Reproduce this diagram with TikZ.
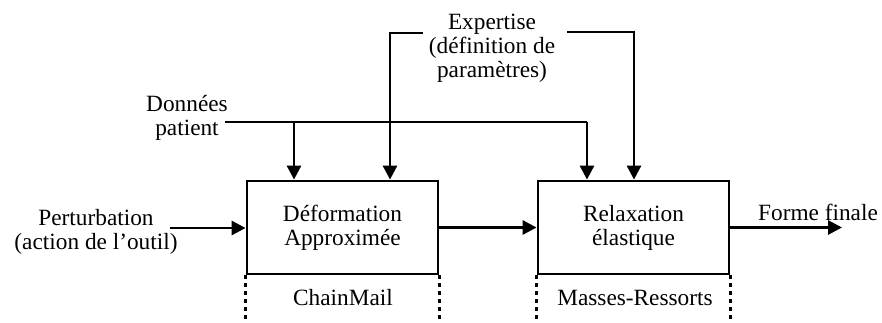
\documentclass[tikz,border=0pt]{standalone}
\usepackage{fontspec}
\setmainfont{Liberation Serif}
\usetikzlibrary{arrows.meta}
\begin{document}
\begin{tikzpicture}[x=1pt,y=-1pt,
  every node/.style={font=\fontsize{23.3}{24}\selectfont, inner sep=0pt, align=center},
  blockbox/.style={draw, line width=2.8pt, minimum width=191pt, minimum height=93pt},
  conn/.style={line width=2.8pt},
  arr/.style={conn, -{Triangle[length=14pt,width=14pt]}},
  dots/.style={line width=2.8pt, dash pattern=on 4pt off 4pt}]
\useasboundingbox (0,0) rectangle (882,322);
% blocks
\node[blockbox] (b1) at (342.5,227.5) {Déformation\\Approximée};
\node[blockbox] (b2) at (633.5,227.5) {Relaxation\\élastique};
% labels
\node (pert) at (96,232) {Perturbation\\(action de l’outil)};
\node (don) at (187,118) {Données\\patient};
\node (exp) at (492,48) {Expertise\\(définition de\\paramètres)};
\node (ff) at (818,212) {Forme finale};
\node (cm) at (343,298) {ChainMail};
\node (mr) at (635,298) {Masses-Ressorts};
% coordinates
\coordinate (pstart) at (170,228);
\coordinate (dstart) at (225,122);
\coordinate (d1) at (294,122);
\coordinate (d2) at (587,122);
\coordinate (e1s) at (423,33);
\coordinate (e1) at (390,33);
\coordinate (e2s) at (567,32);
\coordinate (e2) at (634,32);
\coordinate (out) at (842,227.5);
% connectors
\draw[arr] (pstart) -- (pstart -| b1.west);
\draw[conn] (dstart) -- (d2);
\draw[arr] (d1) -- (d1 |- b1.north);
\draw[arr] (d2) -- (d2 |- b2.north);
\draw[arr] (e1s) -- (e1) -- (e1 |- b1.north);
\draw[arr] (e2s) -- (e2) -- (e2 |- b2.north);
\draw[arr] (b1.east) -- (b2.west);
\draw[arr] (b2.east) -- (out);
% dotted supports
\draw[dots] (b1.south west) -- ++(0,48);
\draw[dots] (b1.south east) -- ++(0,48);
\draw[dots] (b2.south west) -- ++(0,48);
\draw[dots] (b2.south east) -- ++(0,48);
\end{tikzpicture}
\end{document}
